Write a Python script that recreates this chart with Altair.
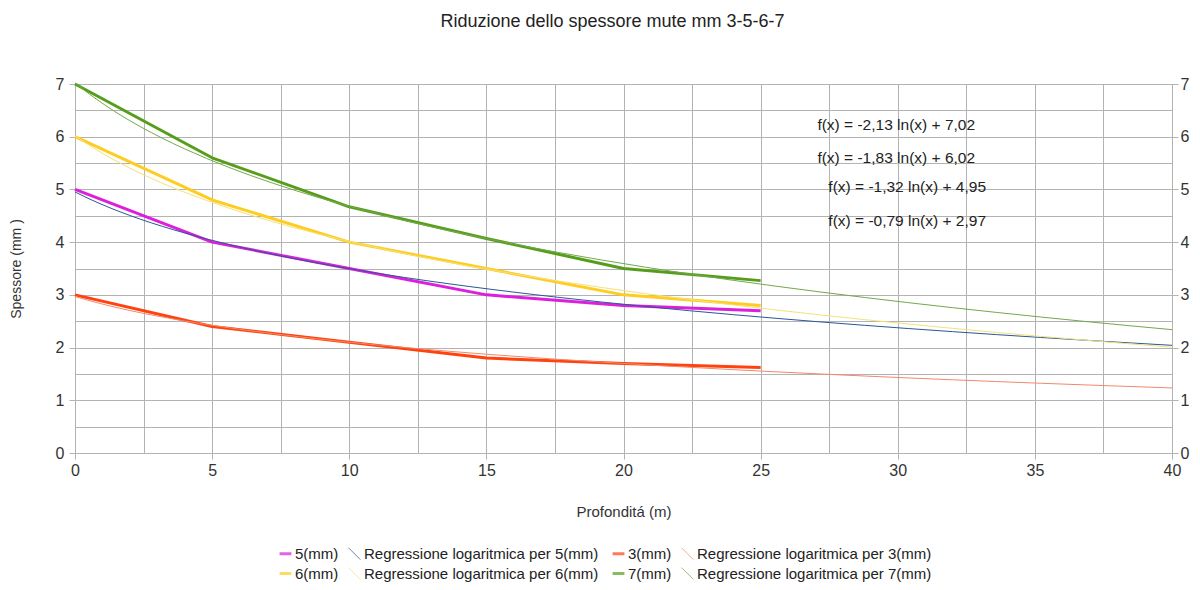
import altair as alt
import pandas as pd

# ---- data ----
depth = [0, 5, 10, 15, 20, 25]
s5 = [5.0, 4.0, 3.5, 3.0, 2.8, 2.7]
s3 = [3.0, 2.4, 2.1, 1.8, 1.7, 1.62]
s6 = [6.0, 4.8, 4.0, 3.5, 3.0, 2.8]
s7 = [7.0, 5.6, 4.67, 4.07, 3.5, 3.27]
series_names = ["5(mm)", "3(mm)", "6(mm)", "7(mm)"]
reg_prefix = "Regressione logaritmica per "

equations = ["f(x) = -2,13 ln(x) + 7,02", "f(x) = -1,83 ln(x) + 6,02",
             "f(x) = -1,32 ln(x) + 4,95", "f(x) = -0,79 ln(x) + 2,97"]
eq_x = [27.07, 27.07, 27.47, 27.47]
eq_y = [6.22, 5.6, 5.05, 4.40]

x_grid = [i * 2.5 for i in range(17)]
y_grid = [i * 0.5 for i in range(15)]

legend_order = ["5(mm)", reg_prefix + "5(mm)", "3(mm)", reg_prefix + "3(mm)",
                "6(mm)", reg_prefix + "6(mm)", "7(mm)", reg_prefix + "7(mm)"]
legend_colors = ["#dd1fdd", "#2b5797", "#ff420e", "#f08a6a",
                 "#ffcc22", "#f2e27a", "#579d1c", "#74a84c"]
legend_shapes = ["stroke", "M-1,-1L1,1", "stroke", "M-1,-1L1,1",
                 "stroke", "M-1,-1L1,1", "stroke", "M-1,-1L1,1"]
legend_widths = [3, 1, 3, 1, 3, 1, 3, 1]

values = s5 + s3 + s6 + s7
df = pd.DataFrame({
    "d": depth * 4,
    "value": values,
    "series": [n for n in series_names for _ in depth],
})

FONT = "Liberation Sans"
GRID = "#b3b3b3"

color_scale = alt.Scale(domain=legend_order, range=legend_colors)
shape_scale = alt.Scale(domain=legend_order, range=legend_shapes)
width_scale = alt.Scale(type="ordinal", domain=legend_order, range=legend_widths)
legend = alt.Legend(title=None, orient="none", legendX=203, legendY=462,
                    columns=4, direction="horizontal",
                    labelFont=FONT, labelFontSize=15, labelColor="#222222",
                    labelLimit=400,
                    symbolSize=140, symbolFillColor="transparent",
                    columnPadding=7, rowPadding=3, labelOffset=2)

xscale = alt.Scale(domain=[0, 40], nice=False, zero=False)
yscale = alt.Scale(domain=[0, 7], nice=False)

x_enc = alt.X("d:Q", scale=xscale, axis=alt.Axis(
    values=x_grid, title="Profonditá (m)",
    labelExpr="datum.value % 5 == 0 ? format(datum.value, 'd') : ''",
    labelOverlap=False, labelFlush=False,
    tickOpacity={"condition": {"test": "datum.value % 5 == 0", "value": 1}, "value": 0},
    tickSize=6, labelPadding=3, titlePadding=26))

y_left = alt.Y("value:Q", scale=yscale, axis=alt.Axis(
    values=y_grid, title="Spessore (mm )", orient="left",
    labelExpr="datum.value % 1 == 0 ? format(datum.value, 'd') : ''",
    labelOverlap=False,
    tickOpacity={"condition": {"test": "datum.value % 1 == 0", "value": 1}, "value": 0},
    tickSize=6, labelPadding=5, titlePadding=32, titleFontSize=14))

y_right = alt.Y("value:Q", scale=yscale, axis=alt.Axis(
    values=y_grid, title=None, orient="right", grid=False,
    labelExpr="datum.value % 1 == 0 ? format(datum.value, 'd') : ''",
    labelOverlap=False,
    tickOpacity={"condition": {"test": "datum.value % 1 == 0", "value": 1}, "value": 0},
    tickSize=6, labelPadding=2))

y_none = alt.Y("value:Q", scale=yscale, axis=None)

base = alt.Chart(df)

lines = base.transform_calculate(label="datum.series").mark_line(strokeJoin="round").encode(
    x=x_enc, y=y_left,
    color=alt.Color("label:N", scale=color_scale, legend=legend),
    strokeWidth=alt.StrokeWidth("label:N", scale=width_scale, legend=legend),
    detail="series:N",
)

reg = base.transform_calculate(t="datum.d / 5 + 1").transform_regression(
    "t", "value", groupby=["series"], method="log", extent=[1, 9]
).transform_calculate(d="(datum.t - 1) * 5", label="'" + reg_prefix + "' + datum.series").mark_line().encode(
    x=x_enc, y=y_right,
    color=alt.Color("label:N", scale=color_scale, legend=legend),
    strokeWidth=alt.StrokeWidth("label:N", scale=width_scale, legend=legend),
    detail="series:N",
)

shapes = base.transform_calculate(label="datum.series").transform_filter("false").mark_point(filled=False).encode(
    x=x_enc, y=y_none,
    shape=alt.Shape("label:N", scale=shape_scale, legend=legend),
    color=alt.Color("label:N", scale=color_scale, legend=legend),
)

eq_df = pd.DataFrame({"text": equations, "d": eq_x, "value": eq_y})
eq_text = alt.Chart(eq_df).mark_text(align="left", baseline="middle", font=FONT,
                                     fontSize=15.5, color="#222222").encode(
    x=x_enc, y=y_none, text="text:N",
)

chart = alt.layer(lines, reg, shapes, eq_text).resolve_scale(y="independent").properties(
    width=1097, height=369,
    autosize=alt.AutoSizeParams(type="none"),
    padding={"left": 67, "top": 76, "right": 20, "bottom": 129},
    title=alt.TitleParams("Riduzione dello spessore mute mm 3-5-6-7", font=FONT,
                          fontSize=18, fontWeight="normal", color="#222222",
                          offset=45, dx=-11),
    background="white",
).configure_view(stroke=None).configure_axis(
    labelFont=FONT, labelFontSize=16, labelColor="#333333",
    titleFont=FONT, titleFontSize=15, titleFontWeight="normal", titleColor="#333333",
    gridColor=GRID, gridWidth=1, domainColor=GRID, tickColor=GRID,
)

chart.save("out.html", embed_options={"renderer": "svg", "actions": False})
